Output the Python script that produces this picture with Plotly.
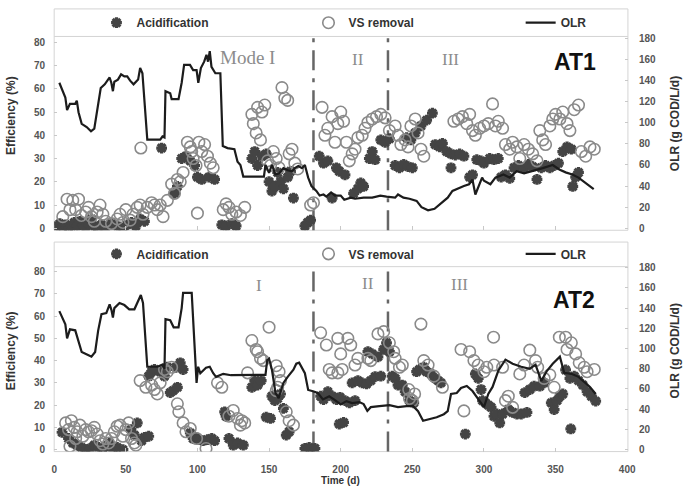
import plotly.graph_objects as go

W, H = 694, 491

# ---------------- data ----------------
# AT1 (top panel)
at1_acid_day = [2,4,6,8,10,12,14,16,18,20,22,24,26,28,30,33,36,40,44,48,51,54,57,60,63,
                75,84,86,89,92,95,98,100,103,108,112,117,120,124,127,138,140,142,145,148,
                150,152,154,156,158,160,163,165,167,175,177,179,185,188,191,194,197,199,
                203,209,212,214,216,220,222,224,228,231,234,238,241,244,247,250,246,249,
                252,256,260,264,266,269,271,274,277,280,283,286,277,290,292,295,298,300,
                304,307,310,312,315,318,321,324,328,331,334,337,340,343,346,349,352,355,
                358,361,362,364,366]
at1_acid_eff = [1,2,0.5,1.5,0,1,2.5,1,3,1.5,0.5,2,4,1,0,1.5,0.5,2,1,0,1.5,2.5,1,4,3,
                34.5,15,18,30,31,29,27,22,21,22,21,1.5,1,2,1,30,33,27,31,32,
                20,16,18,24,20,17,22,24.5,13,1,2.5,3.5,31,28,29,13,26,24.5,
                23,15,17,19.5,18,30,33,29.5,38,37,38.5,27,26,27.5,26.5,26,39,38,
                41,44,46.5,49.5,36,35,36.5,33,32,31.5,32,31,26,22,23,29.5,29,28,
                30,29.5,30,22,23,21.5,26,27,26,27.5,26.5,21,26,27,26,27,28,33,
                35,34,18,22,24]

at1_vs_day = [6,9,11,13,15,17,19,22,24,26,28,30,32,34,36,40,44,46,48,50,53,55,58,60,60.5,
              62,65,68,70,72,74,76,79,82,84,86,88,90,93,95,96,97,99,100,101,103,105,107,
              109,111,118,120,122,124,127,130,133,138,139,141,142,144,145,147,149,151,153,
              155,157,159,161,163,164,166,168,170,179,181,187,189,191,194,196,198,200,202,
              204,206,208,210,212,215,217,219,222,225,228,231,234,238,240,242,245,247,249,
              252,254,256,258,279,282,285,288,290,292,294,297,300,303,306,308,310,313,315,
              318,320,323,325,328,331,334,337,339,341,343,346,348,350,353,355,358,360,363,
              366,368,371,374,377]
at1_vs_eff = [5,12.5,8,12,8,12.5,5.5,7,9,5,3,7,10,6,3,2,4,6,2.5,8,3.5,6,9,10,34.5,
              6,9,11,10,8,10,5,12,19,15,21,20,24,37,35,33,30,27,6.5,37,33,36,31,
              28,26,8,10.5,9,6,7,5.5,9,49,45,41,52,38,50,53,29,27,33,
              30,26,60.5,56,55,32,34,28,25.5,10,11,52,40,43,48,37,45,50,46,
              37,29,32,34,39,40,43,45.5,47,48,49,47.5,42,44,40,36,38,35,44,
              47,41,34,31,46,47,48,45,49,42,40,43,44,45,53.5,44,46,43,36,
              34,37,35,30,36,34,32,29,42,38,36,44,47,49,47,50,45,42,51,
              53,33,31,35,34]

at1_olr_day = [3.6,7.8,9,11,14.7,15.8,17,19.2,22.7,25.7,28,29.6,32.5,35.3,38.7,39.9,41,42,
               44.5,46.7,49,51,53,55.4,58.6,60,61.6,65,74,75.6,77,77.7,81,82,86.8,89,90.7,
               94.8,97,99.4,100.6,102.4,104.7,106.3,107.4,108.6,109.8,112.5,116,117.7,121,
               125.8,128,130,132,146.4,147.5,150,152,154.4,157,160,163,166,168,170.4,173,
               175,177.3,179.6,183,185.3,188,190,193.3,196,200,202.5,207,210,216,222,227.7,
               232,238,240,243.8,248,253,256.4,261,265.5,271,274.7,278,282.7,286,289.6,292,
               294,296,298.7,300,304.5,308,313.6,318,322.8,328,334,341,348,352.6,357,361.7,
               366,371,376.6]
at1_olr_val = [138,124,112,118,118,121,110,99,96,92,94.5,110,133,136.5,143,138,130,139,
               141,146,144,144,140,136.5,141,152,147,84,84,87,86,130,128,122.5,122.5,138,155,
               155,150,150,138,152,158,164.5,158,168,153,147,147,78,76,
               75,63,60,49,49,60,52.5,60,51,52,57,55,54,57,59,57,
               60,48,40,35.4,31,32,30,34,31,31,27,29,28,29,29,31,
               30,29,32,29,28,26,20,17,18.4,24.5,29,35.4,38.5,40,41.7,46,
               32,39,48,45,41.7,48,51,48,54,52,54,57,60,55.7,53,51,
               48,43,37]

# AT2 (bottom panel)
at2_acid_day = [5.5,10,13,16,19,22,25,28,31,34,36,38.5,41,44,48,53.6,56,58,61,63,66,66,68,70,
                74,77,79,81,83,85,86,88,90,95,97,99,101,104,107,110,112,119,120,122,125,128,
                132,138,140,142,144.5,148,151,152,154,156,158,160,162,164,175,178,182,186,
                188,191,194,197,199,199.5,202,203,206,208,210,212,215,218,219,221,222,224,
                226,228,230,232,234,236,238,240,243,245,248,251,253,255,258,260,263,266,268,
                270,287,294,296,298,299,301,303,305,307,309,311,313,317,320,323,326,328.5,
                330,332,335,339,342,347,349,351,353,355,357,360,360.6,363,366,369,372,375,378]
at2_acid_eff = [7.8,5,3,2,1,0,0.5,2,1,0,1.5,3,0.5,1,0,9,6.5,12,4,5.5,6,33,35,36,
                35,33,37,25.6,26.5,37,28,39,36,7.5,5,5.5,4.5,4,4.5,5,4,17,15,5,2,3,
                2,28,31,29,31,14.6,14,24,22,23,25,18.5,6.5,8,0.5,1,0.5,24,
                22.5,26,24,22.5,11.5,23.5,12.2,22,21,30,22,31,30,29.5,44,31,43,32.8,
                41.7,33,45,48,44,33,32,29,29,26,22,21,35,36,37,35,34,32,31,
                30,7,34,32,27,22,21,20,19,15,16,12,16,18,16.7,16,16,25.6,
                16.7,27,28.5,28.5,30,21,18,22,24,25,35.8,32,9.3,33,31,29,26,24,21.8]

at2_vs_day = [8,10,11,12,14,15,16,18,20,22,24,26,28,30,32,34,36,38,40,42,44,46,48,50,52,54,
              56,57,60,64,68,70,72,74,77,79,82,86,87,90,92,95,99.4,106,114,117,122,125,128,
              130,131,133,135,138,141,142,144,146,150,155,157,158,156,155,162,164,167,186,
              190,192,194,198,198,200,201,205,207,210,212,219,221,226,230,234,237,238,241,
              243,247.5,250,251.6,248,256,258,261,265,271,284,286,290,293,296,300,302,306.7,
              307,313,315,317,320,325,328,332,336,337.5,342,346,349,352.6,357,361,358,364,
              366.5,370,372,377]
at2_vs_eff = [12,9,1.5,13,10,5,8,11,6,9,8,8.5,10,7,4,2.5,5,3,5,8,10.5,11,6,9,12,5,
              3,2,31,28,29,27,25,30,36,35,37,20.6,17,12,8,9.5,5,0.5,30,28,15,17.6,14,
              11,13,12,34.5,49,45,44,41,40,55,37.7,35,31,28,26.5,17,13,11,52.5,
              47,36,34.5,34.5,50,43,36,50,47,38,41,41,40,52,53,48,44,41,37,
              38,27,22,25,23,56.4,40,38,33,28,45,17.4,44,40,38,35,37,50.5,
              38,37,22,24,19,34,38,44.7,40,37,32,33.6,28,50.5,50.5,48,45,43,
              39,37,35,36]

at2_olr_day = [3.6,7.8,9,11,14.7,17,19.2,24,26,28.6,30.7,33,36.4,38.7,40,41,42,45.6,49,52.4,
               56,58.6,60.5,62,65,72,75.6,77,77.7,81,83.4,86.8,89,90,96,99.4,100.5,102,106,
               108.6,111,113,118,123.5,145,147.5,148.7,150,152,154.5,156.7,160,163,167,169,
               171,175,177.3,180.7,184,187.6,192,196,200,204,208,213,216,218.6,221,227,234,
               240,246,250.6,254,257.5,262,267,272,274.7,277,281,284,288,292,296,300,303,306,
               310,315,320,326,332,336,340,344,348,353,356,361,366,370,374,378]
at2_olr_val = [137,124,110,119,118,106,96.6,93.4,92,96.6,117.7,134,135,143.7,138,130.6,140,145,
               143,138.8,138.8,147,153,145,82,82,84,80,129,128,121,121,140,155,155,66,82,
               75.6,81,82,75.6,72,75,73.6,73.6,74,88.5,90,79,56,51,66,72,79,85,
               86,75.6,59,57.7,56,49.6,52.8,49,44.7,48,46,47,45,38.3,42,43,44,
               42,43,43,38,28.5,30,32,35,38,55,56,61,63,58,50,42,55,62,
               78,89,85,82,80,84,68,78,85,92,76,75,72,67,62,55]

x_ticks = [0, 50, 100, 150, 200, 250, 300, 350, 400]
eff_ticks = [0, 10, 20, 30, 40, 50, 60, 70, 80]
olr_ticks = [0, 20, 40, 60, 80, 100, 120, 140, 160, 180]
phase_bounds = [181, 233]

# ---------------- styles ----------------
ACID_C = "#444444"
VS_C = "#8a8a8a"
OLR_C = "#1c1c1c"
FONT = "Liberation Sans"

def px_x(p):
    return p / W

def px_y(p):
    return (H - p) / H

fig = go.Figure()

def add_panel(xa, ya_l, ya_r, acid_d, acid_e, vs_d, vs_e, olr_d, olr_v, leg, leg_line):
    fig.add_trace(go.Scatter(x=acid_d, y=acid_e, mode="markers", name="Acidification",
                             xaxis=xa, yaxis=ya_l, legend=leg,
                             marker=dict(symbol="asterisk", size=9, color=ACID_C,
                                         line=dict(width=3.2, color=ACID_C))))
    fig.add_trace(go.Scatter(x=vs_d, y=vs_e, mode="markers", name="VS removal",
                             xaxis=xa, yaxis=ya_l, legend=leg,
                             marker=dict(symbol="circle-open", size=11.5, color=VS_C,
                                         line=dict(width=1.6, color=VS_C))))
    fig.add_trace(go.Scatter(x=olr_d, y=olr_v, mode="lines", name="OLR",
                             xaxis=xa, yaxis=ya_r, legend=leg_line,
                             line=dict(color=OLR_C, width=2.2)))

add_panel("x", "y", "y2", at1_acid_day, at1_acid_eff, at1_vs_day, at1_vs_eff,
          at1_olr_day, at1_olr_val, "legend", "legend3")
add_panel("x2", "y3", "y4", at2_acid_day, at2_acid_eff, at2_vs_day, at2_vs_eff,
          at2_olr_day, at2_olr_val, "legend2", "legend4")

XD = [px_x(52), px_x(635)]
top_dom = [px_y(230), px_y(33)]
bot_dom = [px_y(455), px_y(267)]

tickfont = dict(family=FONT, size=10, color="#555", weight="bold")
common_x = dict(domain=XD, range=[0, 400.5], tickvals=x_ticks, ticks="inside", ticklen=4,
                tickcolor="#c8c8c8", showgrid=False, zeroline=False, showline=False,
                tickfont=tickfont)
common_yl = dict(tickvals=eff_ticks, ticks="inside", ticklen=3, tickcolor="#c8c8c8",
                 showgrid=False, zeroline=False, showline=False, tickfont=tickfont,
                 ticklabelstandoff=8)
common_yr = dict(tickvals=olr_ticks, ticks="inside", ticklen=3, tickcolor="#c8c8c8",
                 showgrid=False, zeroline=False, showline=False, tickfont=tickfont,
                 ticklabelstandoff=10, side="right")

legend_common = dict(orientation="h", xanchor="left", yanchor="middle",
                     bgcolor="rgba(0,0,0,0)", borderwidth=0,
                     font=dict(family=FONT, size=12, color="#333", weight="bold"),
                     itemclick=False, itemdoubleclick=False)

fig.update_layout(
    width=W, height=H, autosize=False,
    margin=dict(l=0, r=0, t=0, b=0),
    paper_bgcolor="white", plot_bgcolor="white",
    showlegend=True,
    xaxis=dict(**common_x, anchor="y", showticklabels=False),
    yaxis=dict(**common_yl, domain=top_dom, range=[-0.85, 82.5], anchor="x"),
    yaxis2=dict(**common_yr, domain=top_dom, range=[-1.9, 181.9], anchor="x", overlaying="y"),
    xaxis2=dict(**common_x, anchor="y3", showticklabels=True, ticklabelstandoff=10),
    yaxis3=dict(**common_yl, domain=bot_dom, range=[-0.88, 82.2], anchor="x2"),
    yaxis4=dict(**common_yr, domain=bot_dom, range=[-1.95, 181], anchor="x2", overlaying="y3"),
    legend=dict(**legend_common, entrywidth=167, x=px_x(95), y=px_y(19)),
    legend2=dict(**legend_common, entrywidth=167, x=px_x(95), y=px_y(254)),
    legend3=dict(**legend_common, x=px_x(526), y=px_y(19)),
    legend4=dict(**legend_common, x=px_x(526), y=px_y(254)),
)

shapes = []
box = dict(color="#d4d4d4", width=1)
for (top, sep, bottom) in [(5, 33, 230), (242, 267, 455)]:
    shapes.append(dict(type="rect", xref="paper", yref="paper", x0=px_x(52), x1=px_x(635),
                       y0=px_y(bottom), y1=px_y(top), line=box, layer="below"))
    shapes.append(dict(type="line", xref="paper", yref="paper", x0=px_x(52), x1=px_x(635),
                       y0=px_y(sep), y1=px_y(sep), line=box, layer="below"))
for xa, ya in [("x", "y"), ("x2", "y3")]:
    for b in phase_bounds:
        shapes.append(dict(type="line", xref=xa, yref=ya + " domain", x0=b, x1=b, y0=0, y1=1,
                           line=dict(color="#666", width=2.5, dash="20px,8px,4px,8px"),
                           layer="below"))
fig.update_layout(shapes=shapes)

annotations = []
def note(text, x, y, size, color, family, weight="normal", angle=0, yanchor="middle"):
    annotations.append(dict(text=text, x=px_x(x), y=px_y(y), xref="paper", yref="paper",
                            showarrow=False, xanchor="center", yanchor=yanchor,
                            textangle=angle, borderpad=0,
                            font=dict(family=family, size=size, color=color, weight=weight)))

SERIF = "Liberation Serif"
note("Mode I", 248, 54, 19, "#8c8c8c", SERIF)
note("II", 361, 56, 17, "#8c8c8c", SERIF)
note("III", 455, 56, 17, "#8c8c8c", SERIF)
note("AT1", 581, 59, 23, "#111", FONT, "bold")
note("I", 260, 286, 17, "#8c8c8c", SERIF)
note("II", 371, 284, 17, "#8c8c8c", SERIF)
note("III", 464, 285, 17, "#8c8c8c", SERIF)
note("AT2", 580, 301, 23, "#111", FONT, "bold")
for yc in (113, 352):
    note("Efficiency (%)", 8, yc, 12, "#333", FONT, "bold", -90)
for yc in (122, 353):
    note("OLR (g COD/L/d)", 683, yc, 12, "#333", FONT, "bold", -90)
note("Time (d)", 343, 478, 10, "#333", FONT, "bold", yanchor="top")
fig.update_layout(annotations=annotations)

fig.write_html("out.html")
